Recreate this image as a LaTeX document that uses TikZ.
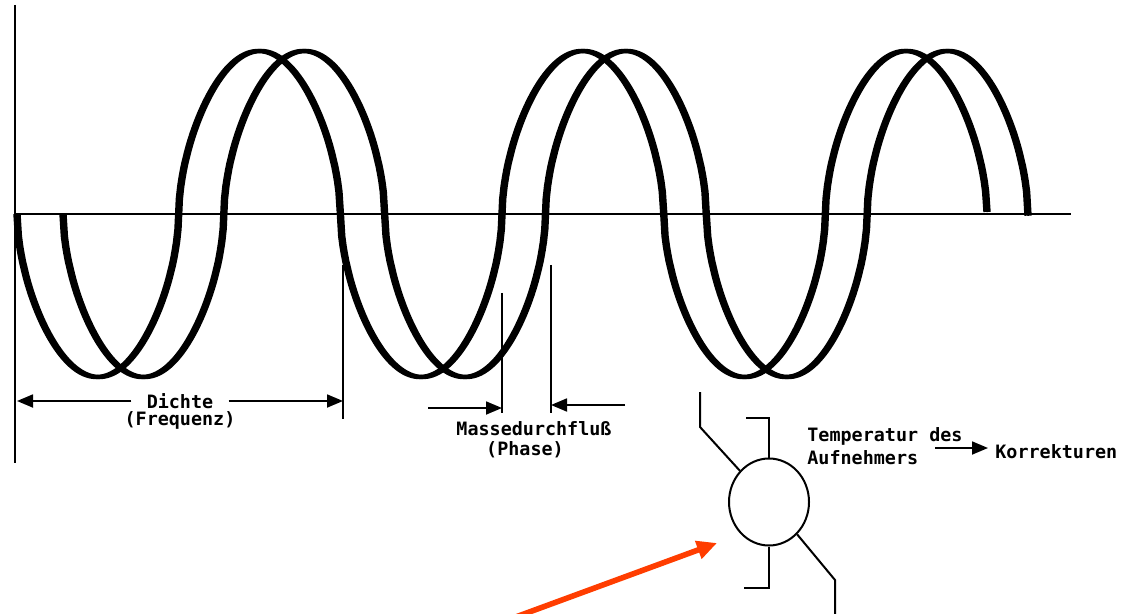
\documentclass[tikz,border=0pt]{standalone}
\usepackage{fontspec}
\setmonofont{DejaVu Sans Mono}
\usetikzlibrary{arrows.meta,positioning,shapes.geometric}
\definecolor{PtrRed}{HTML}{FF3D00}

\begin{document}
\begin{tikzpicture}[x=0.5pt, y=-0.5pt,
  declare function={bend(\s)=\s*exp(-0.45*ln(abs(\s)+0.0001));},
  axisline/.style={line width=1pt},
  wave/.style={line width=2.2pt},
  markline/.style={line width=0.9pt},
  sensorline/.style={line width=1pt},
  lbl/.style={font=\ttfamily\bfseries\fontsize{9.2}{11.5}\selectfont, inner sep=0pt},
  dimarrow/.style={line width=0.9pt, -{Triangle[length=8pt,width=6.5pt]}},
  pointer/.style={draw=PtrRed, line width=2.8pt, -{Triangle[length=10pt,width=9pt]}}]
  \useasboundingbox (0,0) rectangle (1122,614);

  % axes
  \draw[axisline] (15,5) -- (15,463);
  \draw[axisline] (15,214) -- (1071,214);

  % the two shifted oscillations
  \foreach \xa/\hp/\xb in {17/161.67/987, 63/160.83/1028}
    \foreach \sh in {-1.5,1.5}
      \draw[wave] plot[domain=\xa:\xb, samples=700]
        ({\x+\sh}, {214+163*bend(sin((\x-\xa)/\hp*180))});

  % density (frequency)
  \draw[markline] (343,265) -- (343,419);
  \coordinate (dL) at (17,403);
  \coordinate (dR) at (343,403);
  \node[lbl, inner xsep=7.5pt] (dichte) at (180,401) {Dichte};
  \node[lbl] (freq) at (180,420) {(Frequenz)};
  \draw[dimarrow] (dichte.west) -- (dichte.west -| dL);
  \draw[dimarrow] (dichte.east) -- (dichte.east -| dR);

  % mass flow (phase)
  \draw[markline] (502,293) -- (502,413);
  \draw[markline] (551,265) -- (551,413);
  \coordinate (mL) at (428,408);
  \coordinate (mTipL) at (502,408);
  \coordinate (mR) at (625,405);
  \coordinate (mTipR) at (551,405);
  \draw[dimarrow] (mL) -- (mTipL);
  \draw[dimarrow] (mR) -- (mTipR);
  \node[lbl] (mass) at (534,429) {Massedurchflu\ss};
  \node[lbl] (phase) at (525,450) {(Phase)};

  % sensor
  \node[draw, ellipse, sensorline, inner sep=0pt, minimum width=40pt, minimum height=43.5pt] (sensor) at (769,502) {};
  \draw[sensorline] (sensor.north) -- ++(0,-40) -- ++(-23,0);
  \draw[sensorline] (sensor.south) -- ++(0,41) -- ++(-25,0);
  \draw[sensorline] (sensor.133) -- (700,427) -- (700,392);
  \draw[sensorline] (sensor.-49) -- (835,580) -- (835,618);

  \node[lbl, anchor=west, align=left] (temp) at (807,446) {Temperatur des\\Aufnehmers};
  \coordinate (tq) at (935,448);
  \node[lbl, anchor=west] (korr) at (995,452) {Korrekturen};
  \draw[dimarrow, shorten >=3.5pt] (tq) -- (tq -| korr.west);

  % pointer
  \coordinate (pStart) at (513,618);
  \coordinate (pTip) at (717,543);
  \draw[pointer] (pStart) -- (pTip);
\end{tikzpicture}
\end{document}
